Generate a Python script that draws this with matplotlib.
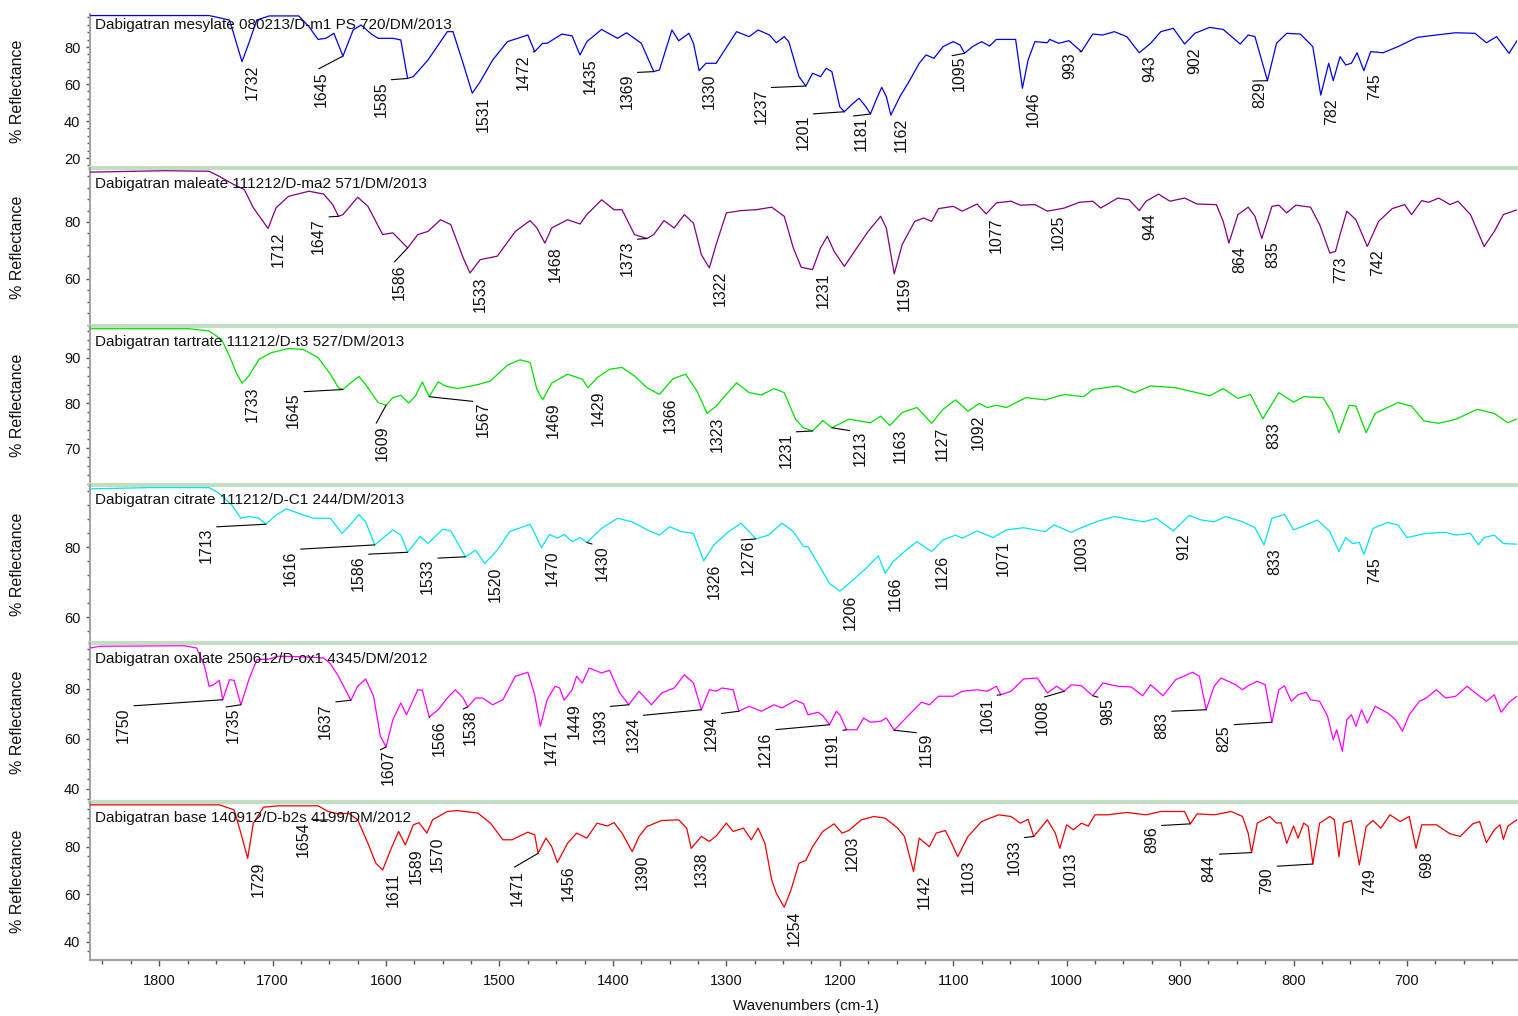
import matplotlib
matplotlib.use("Agg")
import matplotlib.pyplot as plt
from matplotlib.ticker import MultipleLocator

plt.rcParams['font.family'] = ['Liberation Sans', 'DejaVu Sans']

# ---- spectra: (wavenumber cm-1, % reflectance) ----
MESYLATE = [(1861, 97.0), (1756, 97.0), (1738, 94.6), (1727, 72.1), (1721, 82), (1714, 94.6), (1703, 96.8),
            (1677, 96.8), (1668, 91), (1660, 84.1), (1653, 84.7), (1646, 87.4), (1638, 75.1), (1629, 89.2),
            (1622, 91.9), (1613, 87), (1607, 84.7), (1594, 84.7), (1587, 83.8), (1581, 63), (1576, 64),
            (1563, 73), (1546, 88.3), (1541, 88.3), (1532, 71), (1524, 55), (1517, 61.3), (1506, 73),
            (1493, 82.9), (1475, 86.5), (1469, 77.5), (1462, 82), (1458, 82), (1445, 87), (1436, 86),
            (1429, 75.7), (1423, 82.9), (1410, 89.5), (1396, 84.7), (1388, 87.7), (1375, 82), (1364, 66.7),
            (1359, 67.6), (1348, 89.2), (1342, 83.4), (1333, 87.4), (1329, 82), (1324, 67.2), (1318, 71.2),
            (1309, 71.2), (1291, 88.3), (1280, 85.6), (1272, 89.2), (1262, 86.5), (1256, 82.3), (1249, 85.6),
            (1245, 82.9), (1236, 64), (1230, 58.9), (1224, 65.8), (1217, 64), (1212, 68.5), (1207, 66.7),
            (1200, 47.7), (1196, 45), (1190, 48.6), (1183, 52.3), (1177, 47.7), (1173, 43.8), (1168, 51.4),
            (1163, 58.2), (1159, 53.2), (1155, 43.2), (1147, 53.2), (1139, 61.3), (1130, 71.2), (1124, 75.7),
            (1117, 73.9), (1109, 80.2), (1100, 82.9), (1094, 81.1), (1090, 76.6), (1083, 80.2), (1075, 82.9),
            (1068, 80.5), (1062, 84.1), (1045, 84.1), (1039, 57.7), (1034, 73), (1028, 82.9), (1017, 82.3),
            (1015, 84.1), (1007, 82), (998, 83.4), (987, 77.5), (977, 87), (968, 86.5), (958, 88.3),
            (947, 85.6), (936, 76.9), (926, 82), (917, 88.3), (906, 90.1), (896, 81.6), (887, 87.4),
            (874, 90.6), (862, 89.5), (847, 81.6), (840, 86.5), (834, 85.6), (823, 61.8), (815, 82),
            (806, 87.4), (794, 87), (783, 80.2), (776, 54), (769, 71.2), (765, 61.8), (759, 74.8),
            (754, 70.3), (749, 71.2), (744, 76.9), (738, 67.2), (732, 77.5), (721, 76.9), (708, 80.2),
            (691, 85.2), (674, 86.5), (657, 87.7), (640, 87.4), (630, 82.3), (621, 85.6), (610, 76.6), (603, 83.4)]

MALEATE = [(1861, 97.5), (1795, 98), (1756, 97.8), (1747, 96), (1734, 93.1), (1725, 91.4), (1717, 85),
           (1704, 77.7), (1697, 85), (1686, 89), (1668, 90.8), (1655, 89.8), (1647, 86.1), (1642, 82),
           (1638, 82.6), (1625, 88.7), (1616, 85.5), (1603, 75.6), (1594, 76.2), (1581, 70.9), (1572, 75.6),
           (1563, 76.7), (1552, 80.8), (1543, 79.1), (1532, 67.4), (1526, 62.1), (1517, 66.8), (1502, 68),
           (1486, 76.7), (1473, 80.5), (1467, 77.9), (1460, 72.6), (1454, 77.9), (1440, 80.8), (1429, 79.3),
           (1423, 82.6), (1410, 87.8), (1399, 84.3), (1392, 84.3), (1381, 75.6), (1370, 74.2), (1364, 75.6),
           (1355, 80.5), (1346, 77.9), (1337, 82.6), (1329, 79.6), (1322, 68.5), (1315, 63.9), (1309, 72.1),
           (1300, 83.2), (1287, 84), (1274, 84.3), (1260, 85.2), (1249, 82), (1241, 70.9), (1234, 64.1),
           (1224, 63.3), (1217, 70.9), (1211, 75), (1205, 69.7), (1196, 64.4), (1185, 70.9), (1175, 76.7),
           (1164, 82), (1159, 77.9), (1152, 61.8), (1145, 72.1), (1134, 80.2), (1126, 81.4), (1119, 80.2),
           (1113, 84.7), (1100, 85.5), (1092, 83.8), (1079, 86.3), (1071, 82.8), (1062, 86.7), (1049, 87.3),
           (1041, 85.9), (1028, 86.1), (1017, 83.8), (1002, 84.9), (989, 86.9), (977, 87.3), (970, 84.9),
           (955, 88.4), (945, 87.8), (936, 84), (930, 87.3), (919, 89.8), (909, 87.3), (896, 88.4),
           (885, 86.3), (868, 86.1), (862, 80.2), (857, 72.6), (849, 82.6), (840, 85.2), (834, 82),
           (828, 74.2), (819, 85.5), (813, 85.9), (806, 83.2), (798, 85.9), (785, 85.2), (777, 79.1),
           (768, 69.1), (763, 69.7), (759, 75.6), (753, 83.8), (745, 80.8), (735, 71.4), (725, 80.2),
           (713, 84.7), (702, 86.1), (696, 82.6), (687, 87.5), (681, 86.9), (672, 88.4), (662, 86.1),
           (655, 87.3), (644, 82.6), (632, 71.4), (623, 76.7), (615, 82.6), (603, 84.3)]

TARTRATE = [(1861, 96.5), (1774, 96.5), (1756, 96), (1745, 94.1), (1738, 90.4), (1732, 86.7), (1727, 84.4),
            (1721, 86), (1712, 89.7), (1701, 91.2), (1686, 92.1), (1673, 91.9), (1660, 90.1), (1649, 86.4),
            (1642, 83.4), (1638, 83), (1633, 84.1), (1624, 85.9), (1618, 84.1), (1607, 80.1), (1600, 79.5),
            (1594, 81.2), (1587, 81.7), (1580, 80), (1574, 81.6), (1568, 84.7), (1562, 81.4), (1554, 84.7),
            (1548, 83.8), (1537, 83.2), (1519, 84.1), (1508, 84.9), (1493, 88.4), (1482, 89.6), (1473, 89),
            (1467, 83), (1462, 80.7), (1454, 84.4), (1440, 86.4), (1427, 85.3), (1422, 83.4), (1414, 85.6),
            (1403, 87.5), (1392, 87.9), (1381, 86), (1370, 83.4), (1359, 81.9), (1347, 85.4), (1336, 86.4),
            (1326, 82.7), (1317, 77.7), (1309, 79.3), (1291, 84.5), (1280, 82.3), (1269, 81.8), (1258, 83.2),
            (1249, 82.3), (1239, 76.4), (1232, 74.5), (1224, 73.8), (1215, 76.1), (1207, 74.5), (1192, 76.4),
            (1173, 75.6), (1164, 77.1), (1156, 75.0), (1145, 77.9), (1132, 79), (1119, 75.5), (1109, 78.6),
            (1098, 80.7), (1087, 78.2), (1077, 79.9), (1070, 79), (1062, 79.5), (1053, 79), (1036, 81.2),
            (1019, 80.7), (1002, 81.9), (985, 81.4), (977, 83), (955, 83.8), (940, 82.3), (926, 83.8),
            (904, 83.4), (887, 82.4), (874, 81.6), (862, 83.2), (849, 81), (838, 81.9), (827, 76.5),
            (813, 82.3), (800, 80.2), (791, 81.4), (774, 81.2), (766, 77.9), (760, 73.4), (751, 79.5),
            (745, 79.3), (736, 73.4), (728, 77.7), (708, 80.1), (696, 79.3), (685, 76), (672, 75.5),
            (657, 76.4), (638, 78.6), (623, 77.7), (611, 75.6), (603, 76.5)]

CITRATE = [(1861, 96.6), (1809, 96.95), (1756, 96.95), (1747, 95.3), (1736, 92), (1728, 88.2), (1721, 88.7),
           (1712, 88.2), (1706, 86.5), (1697, 89.1), (1688, 90.9), (1677, 89.6), (1664, 88.2), (1649, 88.2),
           (1639, 83.9), (1633, 85.8), (1624, 89.3), (1618, 87.2), (1610, 80.6), (1594, 84.9), (1587, 83.4),
           (1581, 78.5), (1570, 83), (1563, 81), (1550, 85.1), (1543, 84.6), (1530, 77.2), (1521, 79.1),
           (1513, 75.3), (1502, 79.1), (1491, 84.4), (1473, 86.5), (1469, 83.9), (1463, 79.8), (1456, 83.6),
           (1449, 82.5), (1443, 83.6), (1436, 81.5), (1429, 82.7), (1423, 81.3), (1410, 85.3), (1396, 88.2),
           (1383, 87.2), (1370, 84.9), (1359, 83.4), (1350, 85.8), (1340, 84.4), (1329, 83.9), (1320, 76),
           (1311, 80.6), (1298, 84.4), (1287, 86.8), (1280, 84.4), (1274, 82.3), (1263, 83.4), (1251, 86.8),
           (1241, 84.4), (1232, 80.1), (1228, 80.1), (1215, 72.9), (1209, 69.6), (1200, 67.4), (1190, 70.1),
           (1177, 73.9), (1166, 77.5), (1160, 72.5), (1153, 75.8), (1143, 78.7), (1132, 81.5), (1119, 78.7),
           (1109, 82), (1098, 83.4), (1092, 82.5), (1079, 84.6), (1065, 82.7), (1053, 84.9), (1038, 85.5),
           (1019, 84.4), (1011, 86.3), (996, 84.2), (985, 85.8), (972, 87.4), (958, 88.7), (947, 88),
           (932, 87.2), (921, 88.2), (906, 84.6), (892, 89), (881, 87.7), (870, 87.2), (860, 88.7),
           (845, 87.2), (834, 85.5), (826, 80.6), (819, 88.2), (808, 89.3), (800, 84.9), (789, 86.3),
           (779, 87.7), (768, 84.4), (760, 78.7), (754, 82.7), (748, 81), (742, 81.3), (738, 77.9),
           (730, 85.3), (717, 87), (708, 86.3), (700, 82.7), (683, 83.9), (666, 84.2), (657, 83.4),
           (644, 83.9), (637, 80.6), (632, 82.7), (623, 83.4), (615, 81), (603, 80.8)]

OXALATE = [(1861, 96.4), (1852, 97.1), (1778, 97.3), (1767, 96.4), (1760, 89.1), (1756, 81.1), (1752, 81.7),
           (1747, 83.5), (1744, 75.7), (1738, 83.7), (1734, 83.5), (1728, 73.7), (1721, 83.7), (1714, 91.7),
           (1703, 92), (1695, 93.1), (1668, 92.8), (1655, 92.4), (1649, 90.1), (1642, 85.1), (1631, 75.5),
           (1625, 81.1), (1618, 84), (1611, 77.1), (1605, 61.1), (1600, 56.8), (1594, 67.7), (1587, 74.4),
           (1582, 69.7), (1572, 79.7), (1568, 79.5), (1562, 68.8), (1554, 71.7), (1546, 76.4), (1539, 79.7),
           (1532, 76.4), (1528, 72.8), (1521, 76.4), (1515, 76.4), (1506, 73.7), (1497, 75.7), (1486, 85.1),
           (1475, 86.7), (1469, 77.7), (1464, 65.1), (1458, 75.7), (1451, 81.1), (1447, 80.4), (1443, 75.5),
           (1436, 79.7), (1432, 85.1), (1427, 82.4), (1421, 88.4), (1410, 86.4), (1403, 87.5), (1394, 78.4),
           (1386, 73.7), (1377, 79.1), (1370, 75.7), (1366, 73.7), (1357, 78.4), (1346, 80.4), (1337, 85.7),
           (1329, 82.4), (1322, 71.7), (1315, 79.7), (1309, 79.1), (1304, 80.4), (1294, 79.7), (1289, 71.1),
           (1280, 73.1), (1269, 71.1), (1258, 73.7), (1251, 72.4), (1239, 75.5), (1232, 74.1), (1228, 69.7),
           (1219, 70.7), (1215, 69.3), (1209, 65.7), (1203, 71.1), (1200, 69.7), (1194, 63.7), (1185, 63.7),
           (1179, 68.4), (1173, 66.7), (1164, 67.1), (1159, 68.4), (1152, 63.5), (1139, 69.7), (1128, 74.7),
           (1121, 73.7), (1113, 77.1), (1100, 77.1), (1092, 79.1), (1079, 79.7), (1070, 79.1), (1062, 81.1),
           (1058, 77.7), (1049, 79.1), (1038, 84), (1026, 84.4), (1017, 78.4), (1009, 81.1), (1002, 79.1),
           (996, 81.7), (987, 81.3), (977, 77.3), (968, 82.4), (955, 81.1), (943, 80.8), (933, 77.3),
           (926, 81.7), (915, 77.3), (904, 83.7), (889, 86.7), (883, 85.1), (877, 71.7), (870, 81.1),
           (864, 84.4), (851, 81.7), (845, 79.7), (840, 81.3), (832, 83.1), (825, 81.7), (819, 66.7),
           (813, 79.7), (808, 81.3), (802, 75.1), (796, 77.7), (789, 78.7), (785, 75.7), (777, 75.1),
           (770, 69.1), (765, 59.7), (762, 63.7), (757, 55.1), (753, 67.7), (749, 69.7), (745, 65.1),
           (740, 71.7), (735, 66.4), (728, 73.1), (717, 70.4), (710, 67.7), (704, 63.1), (698, 69.7),
           (689, 75.1), (683, 76.4), (674, 79.7), (666, 76.4), (657, 77.1), (647, 81.1), (636, 77.1),
           (630, 75.1), (623, 77.7), (617, 70.7), (610, 74.7), (603, 77.1)]

BASE = [(1861, 97.7), (1747, 97.7), (1734, 95.6), (1728, 85.8), (1722, 75.2), (1717, 90), (1708, 96.7),
        (1695, 97.3), (1660, 97.3), (1651, 94.9), (1642, 93.9), (1633, 94.2), (1625, 91.4), (1616, 81.5),
        (1609, 73.1), (1603, 70.3), (1596, 78.7), (1589, 86.5), (1583, 80.8), (1576, 89.3), (1571, 90.2),
        (1564, 85.8), (1559, 91.4), (1546, 94.9), (1537, 95.3), (1519, 94.2), (1508, 90), (1497, 83),
        (1489, 83), (1475, 86.2), (1469, 85.1), (1466, 77.3), (1459, 83.7), (1454, 80.1), (1449, 73.4),
        (1440, 81.5), (1432, 85.8), (1423, 83.7), (1414, 90), (1405, 88.8), (1399, 90.2), (1392, 85.8),
        (1383, 78), (1377, 84.4), (1370, 88.6), (1357, 91.1), (1342, 91.4), (1335, 87.9), (1331, 79.4),
        (1322, 84.4), (1315, 82.3), (1309, 84.6), (1300, 90), (1294, 86.5), (1285, 87.9), (1278, 83),
        (1272, 87.9), (1266, 81.5), (1260, 66.1), (1256, 60.5), (1249, 54.6), (1243, 61.9), (1236, 73.1),
        (1230, 74.3), (1224, 80.1), (1215, 86.5), (1205, 89.7), (1198, 85.8), (1192, 86.9), (1181, 91.4),
        (1170, 92.8), (1160, 92.1), (1149, 87.9), (1143, 84.4), (1135, 69.6), (1130, 83.7), (1121, 80.1),
        (1115, 85.8), (1107, 86.9), (1102, 82.2), (1096, 75.9), (1087, 84.4), (1075, 90.7), (1060, 93.5),
        (1049, 92.8), (1041, 90), (1034, 91.6), (1029, 84.4), (1017, 91.4), (1010, 85.8), (1006, 79.4),
        (1000, 89.3), (994, 87.2), (987, 90), (981, 88.8), (975, 93.5), (964, 93.5), (947, 94.5),
        (930, 93.5), (917, 94.9), (896, 94.9), (891, 89.7), (885, 93.9), (870, 93.5), (855, 94.9),
        (845, 92.8), (840, 85.8), (837, 77.6), (832, 90), (821, 92.8), (815, 90), (811, 90.2), (806, 81.5),
        (800, 88.8), (796, 83.7), (791, 90), (787, 88.6), (783, 72.8), (777, 90), (768, 92.8), (764, 91.4),
        (760, 75.9), (756, 90), (749, 91.1), (742, 72.4), (736, 88.6), (730, 91.1), (723, 87.9),
        (715, 93.5), (706, 90.7), (698, 92.8), (692, 79.4), (687, 89.3), (674, 89.3), (662, 85.5),
        (653, 84.4), (642, 89.7), (636, 90.7), (630, 81.8), (623, 87.2), (618, 89.3), (615, 83.2),
        (611, 88.8), (603, 91.4)]

# ---- peak labels: (text, peak wn, peak %R) or (text, peak wn, peak %R, tag wn, tag %R) ----
MESYLATE_PEAKS = [("1732", 1727, 72.1), ("1645", 1638, 75.1, 1664, 66.7), ("1585", 1581, 63, 1611, 61.6),
                  ("1531", 1524, 55), ("1472", 1469, 77.5, 1486, 76.2), ("1435", 1429, 75.7),
                  ("1369", 1364, 66.7, 1394, 65.8), ("1330", 1324, 67.2), ("1237", 1230, 58.9, 1276, 57.7),
                  ("1201", 1196, 45, 1239, 43.2), ("1181", 1173, 43.8, 1188, 42.7), ("1162", 1155, 43.2),
                  ("1095", 1090, 76.6, 1101, 75.3), ("1046", 1039, 57.7), ("993", 987, 77.5, 1004, 77.1),
                  ("943", 936, 76.9), ("902", 896, 81.6), ("829", 823, 61.8, 836, 61.6), ("782", 776, 54),
                  ("745", 738, 67.2)]

MALEATE_PEAKS = [("1712", 1704, 77.7), ("1647", 1642, 82, 1666, 81.4), ("1586", 1581, 70.9, 1595, 65),
                 ("1533", 1526, 62.1), ("1468", 1460, 72.6), ("1373", 1370, 74.2, 1394, 73.5),
                 ("1322", 1315, 63.9), ("1231", 1224, 63.3), ("1159", 1152, 61.8), ("1077", 1071, 82.8),
                 ("1025", 1017, 83.8), ("944", 936, 84), ("864", 857, 72.6), ("835", 828, 74.2),
                 ("773", 768, 69.1), ("742", 735, 71.4)]

TARTRATE_PEAKS = [("1733", 1727, 84.4), ("1645", 1638, 83, 1688, 82.3), ("1609", 1600, 79.5, 1610, 74.9),
                  ("1567", 1562, 81.4, 1521, 80.3), ("1469", 1462, 80.7), ("1429", 1422, 83.4),
                  ("1366", 1359, 81.9), ("1323", 1317, 77.7), ("1231", 1224, 73.8, 1254, 73.4),
                  ("1213", 1207, 74.5, 1189, 73.8), ("1163", 1156, 75.0), ("1127", 1119, 75.5),
                  ("1092", 1087, 78.2), ("833", 827, 76.5)]

CITRATE_PEAKS = [("1713", 1706, 86.5, 1765, 85.5), ("1616", 1610, 80.6, 1691, 79.1),
                 ("1586", 1581, 78.5, 1631, 77.7), ("1533", 1530, 77.2, 1570, 76.6), ("1520", 1513, 75.3),
                 ("1470", 1463, 79.8), ("1430", 1423, 81.3, 1416, 80.6), ("1326", 1320, 76),
                 ("1276", 1274, 82.3, 1287, 82), ("1206", 1200, 67.4), ("1166", 1160, 72.5),
                 ("1126", 1119, 78.7), ("1071", 1065, 82.7), ("1003", 996, 84.2), ("912", 906, 84.6),
                 ("833", 826, 80.6), ("745", 738, 77.9)]

OXALATE_PEAKS = [("1750", 1744, 75.7, 1838, 72.8), ("1735", 1728, 73.7, 1741, 72.8),
                 ("1637", 1631, 75.5, 1660, 74.1), ("1607", 1600, 56.8, 1605, 55.7),
                 ("1566", 1562, 68.8, 1560, 67.5), ("1538", 1528, 72.8, 1532, 72), ("1471", 1464, 65.1),
                 ("1449", 1443, 75.5), ("1393", 1386, 73.7, 1418, 72.4), ("1324", 1322, 71.7, 1389, 68.8),
                 ("1294", 1289, 71.1, 1320, 69.3), ("1216", 1209, 65.7, 1272, 63.1),
                 ("1191", 1194, 63.7, 1213, 62.4), ("1159", 1152, 63.5, 1130, 62.4),
                 ("1061", 1058, 77.7, 1077, 76.8), ("1008", 1002, 79.1, 1028, 75.7),
                 ("985", 977, 77.3, 970, 76.4), ("883", 877, 71.7, 923, 70.8), ("825", 819, 66.7, 868, 65.3)]

BASE_PEAKS = [("1729", 1722, 75.2), ("1654", 1651, 91.4, 1680, 90.8), ("1611", 1603, 70.3),
              ("1589", 1583, 80.8), ("1570", 1564, 85.8), ("1471", 1466, 77.3, 1491, 70.3),
              ("1456", 1449, 73.4), ("1390", 1383, 78), ("1338", 1331, 79.4), ("1254", 1249, 54.6),
              ("1203", 1198, 85.8), ("1142", 1135, 69.6), ("1103", 1096, 75.9),
              ("1033", 1029, 84.4, 1053, 83), ("1013", 1006, 79.4), ("896", 891, 89.7, 932, 88.6),
              ("844", 837, 77.6, 881, 76.6), ("790", 783, 72.8, 830, 71.4), ("749", 742, 72.4),
              ("698", 692, 79.4)]

TITLES = ["Dabigatran mesylate 080213/D-m1 PS 720/DM/2013",
          "Dabigatran maleate 111212/D-ma2 571/DM/2013",
          "Dabigatran tartrate 111212/D-t3 527/DM/2013",
          "Dabigatran citrate 111212/D-C1 244/DM/2013",
          "Dabigatran oxalate 250612/D-ox1 4345/DM/2012",
          "Dabigatran base 140912/D-b2s 4199/DM/2012"]
SPECTRA = [MESYLATE, MALEATE, TARTRATE, CITRATE, OXALATE, BASE]
PEAKS = [MESYLATE_PEAKS, MALEATE_PEAKS, TARTRATE_PEAKS, CITRATE_PEAKS, OXALATE_PEAKS, BASE_PEAKS]
COLORS = ['#0000f0', '#800080', '#00e000', '#00e4ee', '#ff00ff', '#f00000']
YLIMS = [(14.6, 97.84), (43.5, 98.95), (61.8, 97.1), (52.6, 97.7), (34.8, 98.4), (32.4, 98.9)]
YTICKS = [[20, 40, 60, 80], [60, 80], [70, 80, 90], [60, 80], [40, 60, 80], [40, 60, 80]]

# ---- layout (pixels of a 1518 x 1016 canvas) ----
W, H = 1518, 1016
EDGES = [14, 168, 326, 485, 643, 802, 960]
TITLE_Y = [25, 184, 342, 500, 659, 818]
SEP_GREEN = '#c2ddc2'
SPINE_GRAY = '#a0a0a0'
FS_TICK = 10.5
FS_PEAK = 11.5
FS_TITLE = 11
FS_AXIS = 11.5

fig = plt.figure(figsize=(W / 100, H / 100), dpi=100)

for i, (data, peaks) in enumerate(zip(SPECTRA, PEAKS)):
    top, bot = EDGES[i], EDGES[i + 1]
    ax = fig.add_axes([90 / W, 1 - bot / H, 1427 / W, (bot - top) / H])
    ax.set_facecolor('none')
    wn = [p[0] for p in data]
    r = [p[1] for p in data]
    ax.plot(wn, r, color=COLORS[i], lw=0.9, zorder=3)
    ax.set_xlim(1861, 603)
    ax.set_ylim(*YLIMS[i])

    for pk in peaks:
        if len(pk) == 3:
            ax.annotate(pk[0], xy=(pk[1], pk[2]), xytext=(3, -3), textcoords='offset pixels',
                        rotation=90, ha='left', va='top', fontsize=FS_PEAK, color='#111111')
        else:
            ax.annotate(pk[0], xy=(pk[1], pk[2]), xytext=(pk[3], pk[4]), textcoords='data',
                        rotation=90, ha='left', va='top', fontsize=FS_PEAK, color='#111111',
                        arrowprops=dict(arrowstyle='-', color='black', lw=0.8,
                                        shrinkA=0, shrinkB=0, relpos=(0, 1)))

    ax.spines['top'].set_visible(False)
    ax.spines['right'].set_visible(False)
    ax.spines['left'].set_color(SPINE_GRAY)
    ax.spines['left'].set_linewidth(1.4)
    ax.set_yticks(YTICKS[i])
    step = YTICKS[i][1] - YTICKS[i][0]
    ax.yaxis.set_minor_locator(MultipleLocator(step / 5))
    ax.tick_params(axis='y', which='major', length=3, width=1, color='#555555',
                   labelsize=FS_TICK, pad=4, labelcolor='#111111')
    ax.tick_params(axis='y', which='minor', length=2, width=1, color='#555555')

    if i < 5:
        ax.spines['bottom'].set_color(SEP_GREEN)
        ax.spines['bottom'].set_linewidth(3)
        ax.spines['bottom'].set_zorder(5)
        ax.set_xticks([])
    else:
        ax.spines['bottom'].set_color(SPINE_GRAY)
        ax.spines['bottom'].set_linewidth(1.6)
        ax.set_xticks(range(1800, 601, -100))
        ax.xaxis.set_minor_locator(MultipleLocator(25))
        ax.tick_params(axis='x', which='major', length=4, width=1, color='#555555',
                       labelsize=FS_TICK, pad=6, labelcolor='#111111')
        ax.tick_params(axis='x', which='minor', length=3, width=1, color='#555555')

    fig.text(95 / W, 1 - TITLE_Y[i] / H, TITLES[i], fontsize=FS_TITLE, va='center', ha='left',
             color='#111111')
    fig.text(18 / W, 1 - (top + bot) / 2 / H, '% Reflectance', rotation=90, fontsize=FS_AXIS,
             va='center', ha='center', color='#111111')

fig.text(806 / W, 1 - 1006 / H, 'Wavenumbers (cm-1)', fontsize=FS_AXIS - 0.5, ha='center',
         va='center', color='#111111')

fig.savefig('out.png', dpi=100)
